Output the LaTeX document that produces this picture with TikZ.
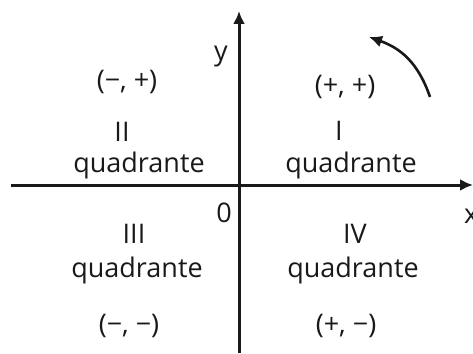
\documentclass[tikz,border=0pt]{standalone}
\usepackage{fontspec}
\setmainfont{Open Sans}
\usetikzlibrary{arrows.meta}
\tikzset{
  axis/.style={line width=3pt, color=black!90, -{Latex[length=13pt,width=12pt]}},
  lbl/.style={anchor=base, inner sep=0pt, font=\fontsize{27}{30}\selectfont, text=black!90}
}
\begin{document}
\begin{tikzpicture}[x=1pt,y=-1pt]
    \useasboundingbox (0,0) rectangle (473,353);
    % Trục tọa độ
    \coordinate (xs) at (11,185);
    \coordinate (xe) at (473,185);
    \coordinate (ys) at (239,353);
    \coordinate (ye) at (239,11);
    \draw[axis] (xs) -- (xe);
    \draw[axis] (ys) -- (ye);
    
    % Tên các trục và gốc
    \node[lbl] (ylbl) at (221,60) {y};
    \node[lbl, anchor=base west] (xlbl) at (464,223) {x};
    \node[lbl] (orig) at (224,222) {0};
    
    % Góc phần tư I và II
    \node[lbl] (s2) at (127,89) {(−, +)};
    \node[lbl] (n2) at (122,141) {II};
    \node[lbl] (q2) at (139,172) {quadrante};
    \node[lbl] (s1) at (345,94) {(+, +)};
    \node[lbl] (n1) at (339,140) {I};
    \node[lbl] (q1) at (351,172) {quadrante};
    
    % Góc phần tư III và IV
    \node[lbl] (n3) at (134,243) {III};
    \node[lbl] (q3) at (137,277) {quadrante};
    \node[lbl] (n4) at (355,243) {IV};
    \node[lbl] (q4) at (353,277) {quadrante};
    \node[lbl] (s3) at (129,333) {(−, −)};
    \node[lbl] (s4) at (346,333) {(+, −)};
    
    % Mũi tên chiều quay
    \coordinate (rs) at (430,97);
    \coordinate (re) at (369,37);
    \draw[line width=2.6pt, color=black!90, -{Latex[length=13pt,width=12pt]}]
      (rs) .. controls (418,62) and (400,48) .. (re);
\end{tikzpicture}
\end{document}
